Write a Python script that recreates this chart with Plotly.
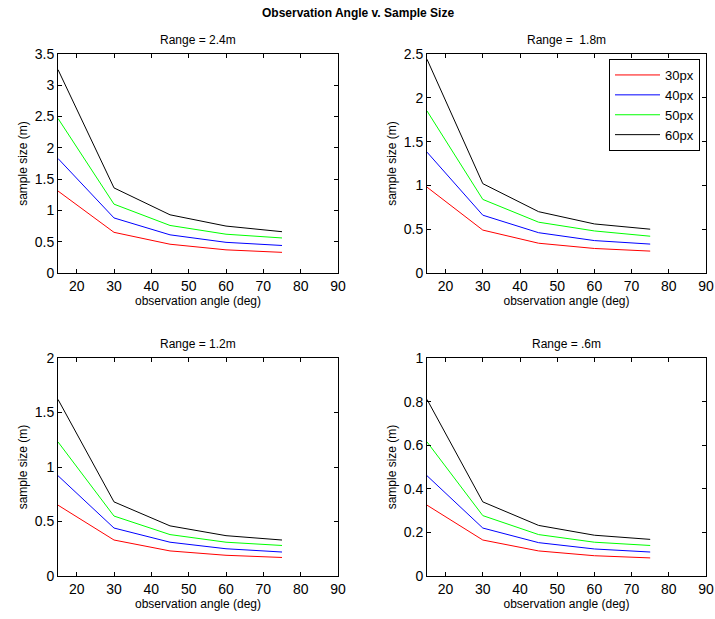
import plotly.graph_objects as go

angles = [15, 30, 45, 60, 75]
series_names = ["30px", "40px", "50px", "60px"]
colors = ["#ff0000", "#0000ff", "#00ff00", "#000000"]

titles = ["Range = 2.4m", "Range =  1.8m", "Range = 1.2m", "Range = .6m"]

r24_30 = [1.31, 0.65, 0.46, 0.37, 0.33]
r24_40 = [1.83, 0.88, 0.61, 0.49, 0.44]
r24_50 = [2.47, 1.10, 0.76, 0.62, 0.56]
r24_60 = [3.25, 1.36, 0.93, 0.75, 0.66]

r18_30 = [0.98, 0.49, 0.34, 0.28, 0.25]
r18_40 = [1.38, 0.66, 0.46, 0.37, 0.33]
r18_50 = [1.85, 0.84, 0.58, 0.48, 0.42]
r18_60 = [2.44, 1.02, 0.70, 0.56, 0.50]

r12_30 = [0.65, 0.33, 0.23, 0.19, 0.17]
r12_40 = [0.92, 0.44, 0.31, 0.25, 0.22]
r12_50 = [1.23, 0.55, 0.38, 0.31, 0.28]
r12_60 = [1.62, 0.68, 0.46, 0.37, 0.33]

r06_30 = [0.325, 0.165, 0.115, 0.093, 0.083]
r06_40 = [0.46, 0.22, 0.153, 0.124, 0.11]
r06_50 = [0.615, 0.277, 0.19, 0.155, 0.14]
r06_60 = [0.81, 0.34, 0.232, 0.187, 0.168]

panels = [
    [r24_30, r24_40, r24_50, r24_60],
    [r18_30, r18_40, r18_50, r18_60],
    [r12_30, r12_40, r12_50, r12_60],
    [r06_30, r06_40, r06_50, r06_60],
]
y_ranges = [[0, 3.5], [0, 2.5], [0, 2], [0, 1]]
y_dticks = [0.5, 0.5, 0.5, 0.2]
x_ticks = [20, 30, 40, 50, 60, 70, 80, 90]

W, H = 715, 619
px_boxes = [  # left, right, top, bottom in pixels
    (58, 338, 54, 273),
    (427, 706, 54, 273),
    (58, 338, 358, 576),
    (427, 706, 358, 576),
]

FONT = "Liberation Sans, Arial, sans-serif"
fig = go.Figure()
layout = dict(
    width=W, height=H,
    margin=dict(l=0, r=0, t=0, b=0, autoexpand=False),
    paper_bgcolor="white", plot_bgcolor="white",
    font=dict(family=FONT, color="#000000"),
    showlegend=True,
    legend=dict(
        x=609 / W, y=1 - 59 / H, xanchor="left", yanchor="top",
        bordercolor="#000000", borderwidth=1, bgcolor="white",
        font=dict(size=13, family=FONT), tracegroupgap=0, itemwidth=45,
    ),
)
annotations = [dict(
    text="<b>Observation Angle v. Sample Size</b>", x=0.5, y=1 - 13 / H,
    xref="paper", yref="paper", showarrow=False, font=dict(size=12, family=FONT),
    xanchor="center", yanchor="middle",
)]

for i, (box, data) in enumerate(zip(px_boxes, panels)):
    l, r, t, b = box
    xa = "xaxis" if i == 0 else f"xaxis{i+1}"
    ya = "yaxis" if i == 0 else f"yaxis{i+1}"
    xr = "x" if i == 0 else f"x{i+1}"
    yr = "y" if i == 0 else f"y{i+1}"
    for j, vals in enumerate(data):
        fig.add_trace(go.Scatter(
            x=angles, y=vals, mode="lines", name=series_names[j],
            line=dict(color=colors[j], width=1),
            xaxis=xr, yaxis=yr, showlegend=(i == 1),
        ))
    common = dict(
        showgrid=False, zeroline=False, showline=True, linecolor="#000000",
        linewidth=1, mirror="ticks", ticks="inside", ticklen=4,
        tickcolor="#000000", tickfont=dict(size=14, family=FONT),
        automargin=False,
    )
    layout[xa] = dict(
        common, domain=[l / W, r / W], range=[15, 90], tickvals=x_ticks,
        anchor=yr,
        title=dict(text="observation angle (deg)", font=dict(size=12, family=FONT), standoff=1),
    )
    layout[ya] = dict(
        common, domain=[1 - b / H, 1 - t / H], range=y_ranges[i],
        dtick=y_dticks[i], tick0=0, anchor=xr,
        title=dict(text="sample size (m)", font=dict(size=12, family=FONT), standoff=4),
    )
    annotations.append(dict(
        text=titles[i], x=(l + r) / 2 / W, y=1 - (t - 14) / H,
        xref="paper", yref="paper", showarrow=False,
        font=dict(size=12, family=FONT), xanchor="center", yanchor="middle",
    ))

layout["annotations"] = annotations
fig.update_layout(**layout)
fig.write_html("out.html")
